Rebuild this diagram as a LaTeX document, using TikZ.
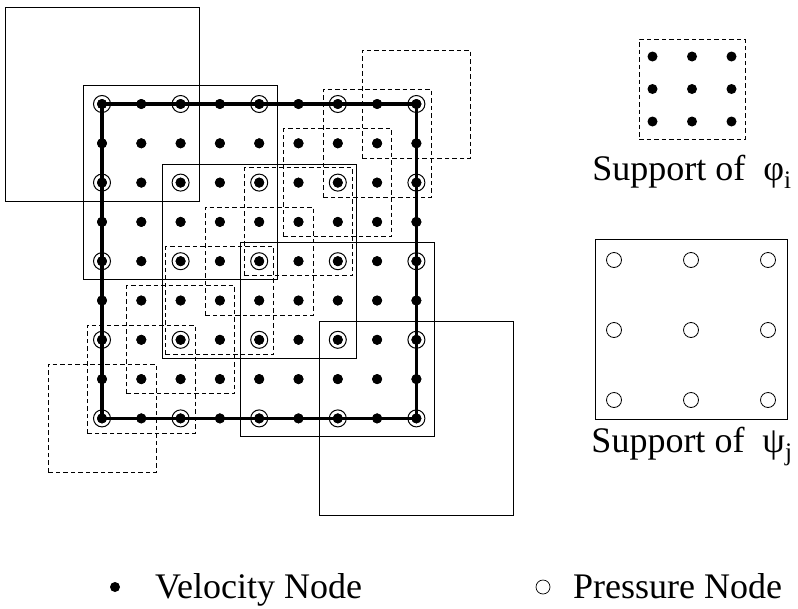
\documentclass[tikz,border=0pt]{standalone}
\usepackage{fontspec}
\setmainfont{Liberation Serif}
\usetikzlibrary{positioning}

\tikzset{
  vel/.style={circle,fill=black,inner sep=0pt,minimum size=10pt},
  pres/.style={circle,draw=black,line width=1pt,inner sep=0pt,minimum size=17pt},
  phibox/.style={draw,line width=1pt,dash pattern=on 4.5pt off 3pt},
  psibox/.style={draw,line width=1pt},
  lbl/.style={font=\fontsize{36}{40}\selectfont,inner sep=0pt}
}

\begin{document}
\begin{tikzpicture}[x=1pt,y=1pt]
    \useasboundingbox (0,0) rectangle (798,-608);

    % velocity nodes on the grid
    \foreach \i in {0,...,8}
        \foreach \j in {0,...,8}
            \node[vel] (v-\i-\j) at (102+39.3*\i,-104-39.3*\j) {};

    % supports of psi along the diagonal
    \foreach \k in {0,2,...,8}
        \draw[psibox] (v-\k-\k.center) +(-97,-97) rectangle +(97,97);

    % supports of phi along the other diagonal
    \foreach \k [evaluate=\k as \m using int(8-\k)] in {0,...,8}
        \draw[phibox] (v-\m-\k.center) +(-54,-54) rectangle +(54,54);

    % boundary
    \draw[line width=3.3pt] (v-0-0.center) -- (v-8-0.center) -- (v-8-8.center)
        -- (v-0-8.center) -- cycle;
    \foreach \i in {0,...,8}
        \foreach \j in {0,...,8}
            \fill (v-\i-\j) circle (5);

    % pressure nodes
    \foreach \i in {0,2,...,8}
        \foreach \j in {0,2,...,8}
            \node[pres] (p-\i-\j) at (v-\i-\j.center) {};

    % legend: support of phi
    \node[phibox,minimum width=106pt,minimum height=100pt] (phisup) at (692,-89) {};
    \foreach \a in {-1,0,1}
        \foreach \b in {-1,0,1}
            \node[vel] at ([shift={(39.5*\a,32.5*\b)}]phisup.center) {};
    \node[lbl,anchor=base] (philbl) at (692,-180) {Support of\ \ φ\textsubscript{i}};

    % legend: support of psi
    \node[psibox,minimum width=192pt,minimum height=180pt] (psisup) at (691,-329) {};
    \foreach \a in {-1,0,1}
        \foreach \b in {-1,0,1}
            \node[pres,line width=0.8pt,minimum size=15pt] at ([shift={(77*\a,-1+70*\b)}]psisup.center) {};
    \node[lbl,anchor=base] (psilbl) at (692,-452) {Support of\ \ ψ\textsubscript{j}};

    % key
    \node[vel,minimum size=10pt] (velkey) at (115,-587) {};
    \node[lbl,anchor=base west] (veltext) at (155,-598) {Velocity Node};
    \node[pres,line width=0.7pt,minimum size=14pt] (preskey) at (543,-587) {};
    \node[lbl,anchor=base west] (prestext) at (573,-598) {Pressure Node};
\end{tikzpicture}
\end{document}
